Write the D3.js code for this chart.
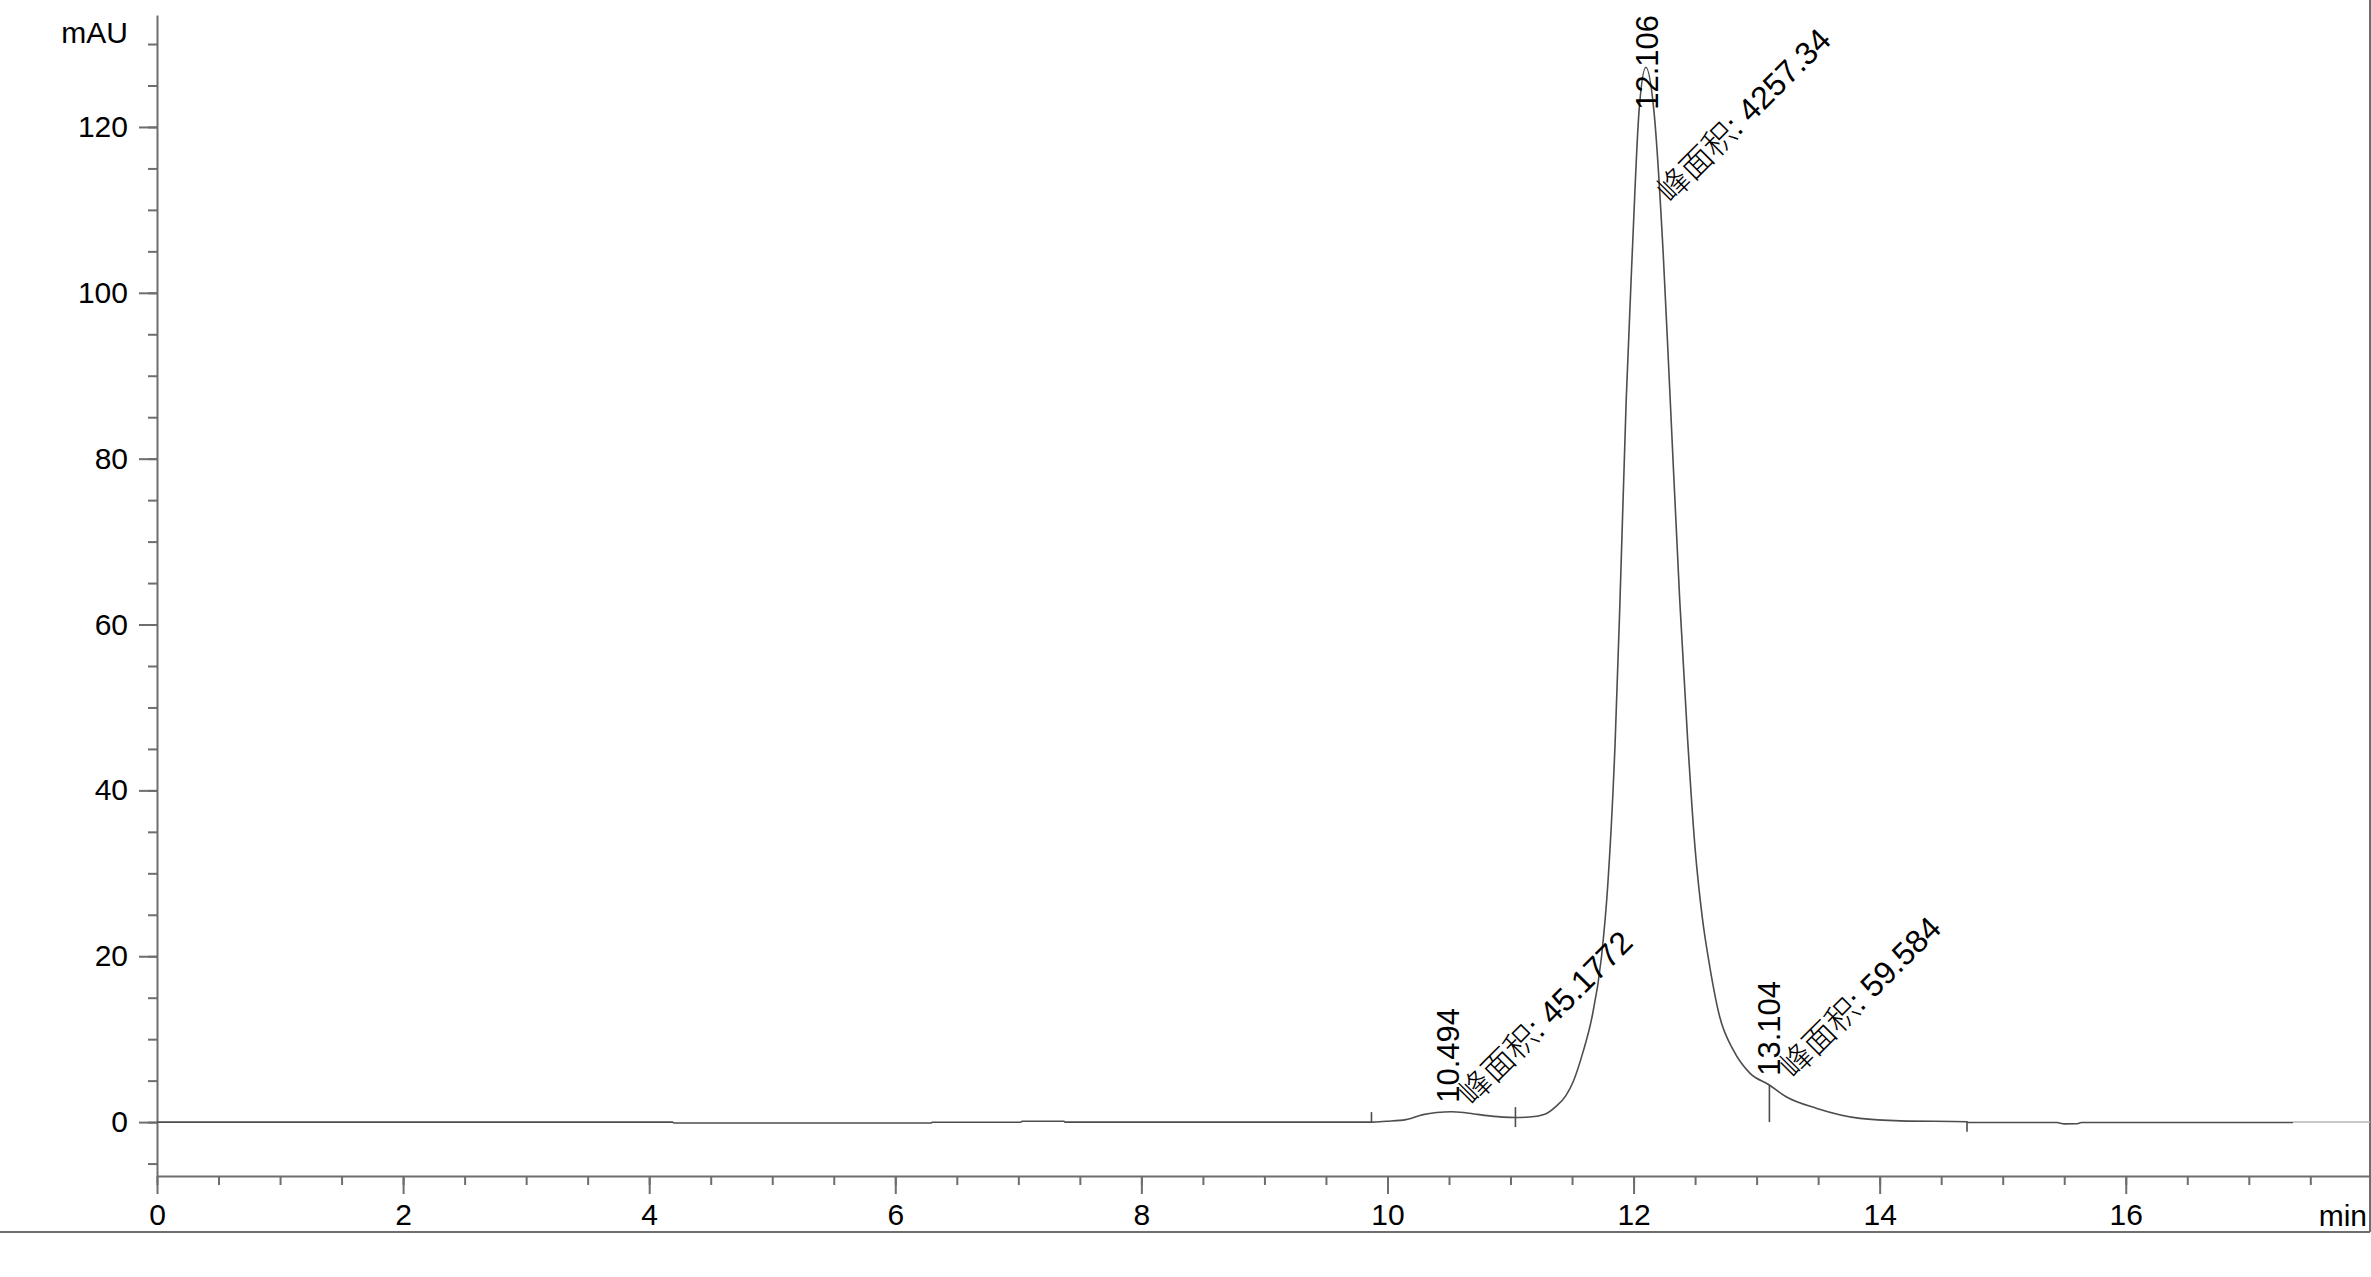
<!DOCTYPE html>
<html lang="zh">
<head>
<meta charset="utf-8">
<script src="https://d3js.org/d3.v7.min.js"></script>
<style>
  body { margin: 0; background: #fff; }
  text { font-family: "Liberation Sans", Arial, sans-serif; fill: #000; }
  .axis path, .axis line { stroke: #6e6e6e; stroke-width: 2px; }
  .cjk { font-family: "Noto Sans CJK SC", sans-serif; font-weight: 300; }
</style>
</head>
<body>
<svg id="chart" width="2371" height="1277"></svg>
<script>
// chromatogram trace (min, mAU)
var times = [0, 4.19, 4.2, 6.29, 6.3, 7.02, 7.03, 7.37, 7.38, 9.87,
  9.99, 10.15, 10.29, 10.4, 10.52, 10.62, 10.72, 10.83, 10.94, 11.04,
  11.12, 11.21, 11.3, 11.37, 11.45, 11.51, 11.59, 11.66, 11.74, 11.79,
  11.85, 11.89, 11.94, 11.99, 12.045, 12.1, 12.165, 12.24, 12.295, 12.375,
  12.44, 12.5, 12.56, 12.62, 12.7, 12.81, 12.945, 13.1, 13.24, 13.49,
  13.84, 14.17, 14.71, 14.72, 15.44, 15.5, 15.6, 15.64, 17.36];
var signal = [0, 0, -0.1, -0.1, -0.02, -0.02, 0.1, 0.1, 0, 0,
  0.1, 0.3, 0.9, 1.15, 1.25, 1.15, 0.95, 0.75, 0.6, 0.55,
  0.58, 0.7, 1.1, 1.9, 3.2, 4.9, 8.5, 12.5, 20, 28.5,
  45.7, 63, 87, 105, 122, 127.2, 122, 105, 88, 63,
  46, 33, 24.5, 18.7, 12.7, 8.7, 5.9, 4.5, 3.05, 1.65,
  0.45, 0.15, 0.05, -0.05, -0.05, -0.22, -0.2, -0.05, -0.05];

// peaks
var peakTimes = [10.494, 12.106, 13.104];
var peakHeights = [1.25, 127.2, 4.5];
var peakAreas = ["45.1772", "4257.34", "59.584"];

// integration event marks
var markTimes = [9.87, 11.04, 13.104, 14.71];
var markValues = [0, 0.6, 4.5, 0.05];
var markKinds = ["up", "cross", "drop", "down"];

// ticks
var xMajor = [0, 2, 4, 6, 8, 10, 12, 14, 16];
var xMinor = d3.range(0, 17.6, 0.5);
var yMajor = [0, 20, 40, 60, 80, 100, 120];
var yMinor = d3.range(-5, 131, 5);

var svg = d3.select("#chart");

var x = d3.scaleLinear().domain([0, 17.985]).range([157, 2370]);
var y = d3.scaleLinear().domain([-6.5, 133.5]).range([1176, 15]);

// frame
svg.append("line").attr("x1", 0).attr("x2", 2370).attr("y1", 1232).attr("y2", 1232)
  .attr("stroke", "#6e6e6e").attr("stroke-width", 2);
svg.append("line").attr("x1", 2370).attr("x2", 2370).attr("y1", 0).attr("y2", 1232)
  .attr("stroke", "#6e6e6e").attr("stroke-width", 2);

// x axis
svg.append("g").attr("class", "axis").attr("transform", "translate(0,1176)")
  .call(d3.axisBottom(x).tickValues(xMinor).tickSize(9).tickSizeOuter(0).tickFormat(""));
var gx = svg.append("g").attr("class", "axis").attr("transform", "translate(0,1176)")
  .call(d3.axisBottom(x).tickValues(xMajor).tickSize(18).tickSizeOuter(0).tickPadding(10).tickFormat(d3.format("d")));
gx.select(".domain").remove();
gx.selectAll("text").attr("font-size", 30).attr("font-family", null);

svg.append("text").attr("x", 2367).attr("y", 1226).attr("text-anchor", "end")
  .attr("font-size", 30).text("min");

// y axis
svg.append("g").attr("class", "axis").attr("transform", "translate(157,0)")
  .call(d3.axisLeft(y).tickValues(yMinor).tickSize(9).tickSizeOuter(0).tickFormat(""));
var gy = svg.append("g").attr("class", "axis").attr("transform", "translate(157,0)")
  .call(d3.axisLeft(y).tickValues(yMajor).tickSize(18).tickSizeOuter(0).tickPadding(11).tickFormat(d3.format("d")));
gy.select(".domain").remove();
gy.selectAll("text").attr("font-size", 30).attr("font-family", null);

svg.append("text").attr("x", 128).attr("y", 43).attr("text-anchor", "end")
  .attr("font-size", 30).text("mAU");

// light baseline after the end of the run
svg.append("line")
  .attr("x1", x(times[times.length - 1])).attr("x2", 2370)
  .attr("y1", y(0)).attr("y2", y(0))
  .attr("stroke", "#b4b4b4").attr("stroke-width", 1.5);

// trace
var line = d3.line()
  .x(function (d, i) { return x(times[i]); })
  .y(function (d) { return y(d); })
  .curve(d3.curveMonotoneX);

svg.append("path")
  .datum(signal)
  .attr("fill", "none")
  .attr("stroke", "#4d4d4d")
  .attr("stroke-width", 1.6)
  .attr("d", line);

// integration marks
markTimes.forEach(function (t, i) {
  var px = x(t), py = y(markValues[i]), y1, y2;
  if (markKinds[i] == "up") { y1 = py - 10; y2 = py; }
  else if (markKinds[i] == "down") { y1 = py; y2 = py + 10; }
  else if (markKinds[i] == "cross") { y1 = py - 10; y2 = py + 10; }
  else { y1 = py; y2 = y(0); }
  svg.append("line").attr("x1", px).attr("x2", px).attr("y1", y1).attr("y2", y2)
    .attr("stroke", "#4d4d4d").attr("stroke-width", 1.6);
});

// peak labels
peakTimes.forEach(function (t, i) {
  var px = x(t) + 11;
  var py = y(peakHeights[i]) - 9;

  var rt = svg.append("text").attr("font-size", 31).text(t.toFixed(3));
  var len = rt.node().getComputedTextLength();
  var sy = Math.max(py, 15 + len);
  rt.attr("transform", "translate(" + px + "," + sy + ") rotate(-90)");

  var at = svg.append("text").attr("font-size", 32);
  at.append("tspan").attr("class", "cjk").text("峰面积");
  at.append("tspan").text(": " + peakAreas[i]);
  var alen = at.node().getComputedTextLength();
  var ay = Math.max(py + 4, 26 + alen * Math.SQRT1_2 + 16);
  at.attr("transform", "translate(" + (px + 13) + "," + ay + ") rotate(-45)");
});
</script>
</body>
</html>
